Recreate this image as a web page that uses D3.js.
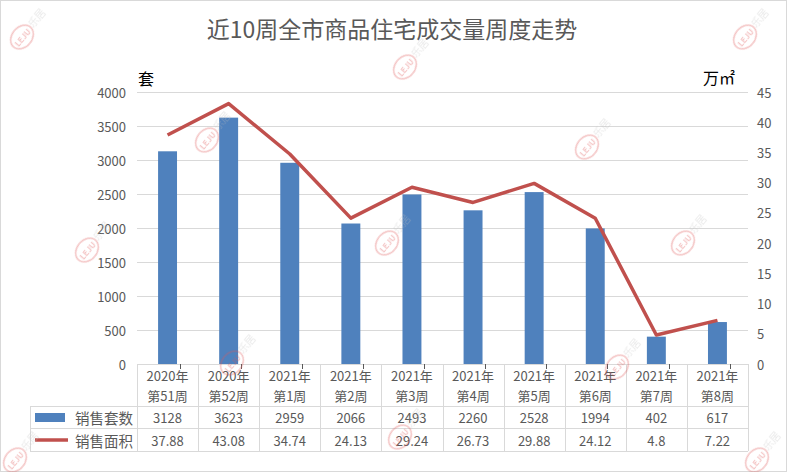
<!DOCTYPE html>
<html><head><meta charset="utf-8">
<script src="https://cdn.jsdelivr.net/npm/d3@7"></script>
<style>
body{margin:0;background:#fff;}
svg{display:block;font-family:"Noto Sans CJK SC","Noto Sans",sans-serif;}
</style></head>
<body><svg id="c" width="787" height="472"></svg>
<script>
const title = "近10周全市商品住宅成交量周度走势";
const catYear = ["2020年","2020年","2021年","2021年","2021年","2021年","2021年","2021年","2021年","2021年"];
const catWeek = ["第51周","第52周","第1周","第2周","第3周","第4周","第5周","第6周","第7周","第8周"];
const salesUnits = [3128,3623,2959,2066,2493,2260,2528,1994,402,617];
const salesArea = [37.88,43.08,34.74,24.13,29.24,26.73,29.88,24.12,4.8,7.22];
const leftTicks = [0,500,1000,1500,2000,2500,3000,3500,4000];
const rightTicks = [0,5,10,15,20,25,30,35,40,45];
const seriesNames = ["销售套数","销售面积"];
const leftUnit = "套", rightUnit = "万㎡";

const svg = d3.select("#c");
const W = 787, H = 472;
const L = 137, R = 748, T = 92, B = 364;
const txt = "#595959", grid = "#d9d9d9";
const blue = "#4F81BD", red = "#C0504D";

svg.append("rect").attr("x",0.5).attr("y",0.5).attr("width",W-1).attr("height",H-1)
  .attr("fill","#fff").attr("stroke","#d9d9d9");

const idx = d3.range(catWeek.length);
const x = d3.scaleBand().domain(idx).range([L,R]).padding(0);
const step = x.step();
const yL = d3.scaleLinear().domain([0,4000]).range([B,T]);
const yR = d3.scaleLinear().domain([0,45]).range([B,T]);

// title
svg.append("text").attr("x",392).attr("y",28).attr("text-anchor","middle")
  .attr("dominant-baseline","central").attr("font-size",23).attr("fill",txt).text(title);

// gridlines
svg.append("g").selectAll("line").data(leftTicks.filter(d=>d>0)).join("line")
  .attr("x1",L).attr("x2",R).attr("y1",d=>yL(d)+0.5).attr("y2",d=>yL(d)+0.5)
  .attr("stroke",grid).attr("stroke-width",1);

// left axis labels
svg.append("g").selectAll("text").data(leftTicks).join("text")
  .attr("x",126).attr("y",d=>yL(d)).attr("text-anchor","end").attr("dominant-baseline","central")
  .attr("font-size",13).attr("fill",txt).text(d=>d);
// right axis labels
svg.append("g").selectAll("text").data(rightTicks).join("text")
  .attr("x",757).attr("y",d=>yR(d)).attr("text-anchor","start").attr("dominant-baseline","central")
  .attr("font-size",13).attr("fill",txt).text(d=>d);

// unit labels
svg.append("text").attr("x",138).attr("y",78).attr("dominant-baseline","central")
  .attr("font-size",16).attr("fill","#000").text(leftUnit);
svg.append("text").attr("x",703).attr("y",77).attr("dominant-baseline","central")
  .attr("font-size",16).attr("fill","#000").text(rightUnit);

// bars
const bw = step*0.31;
svg.append("g").selectAll("rect").data(idx).join("rect")
  .attr("x",i=>x(i)+(step-bw)/2).attr("width",bw)
  .attr("y",i=>yL(salesUnits[i])).attr("height",i=>yL(0)-yL(salesUnits[i]))
  .attr("fill",blue);

// line
const line = d3.line().x(i=>x(i)+step/2).y(i=>yR(salesArea[i]));
svg.append("path").datum(idx).attr("d",line).attr("fill","none")
  .attr("stroke",red).attr("stroke-width",3.5).attr("stroke-linejoin","round");

// data table
const tb = svg.append("g").attr("stroke",grid).attr("stroke-width",1).attr("shape-rendering","crispEdges");
const rowY = [B, 406, 428, 451];
tb.append("line").attr("x1",L).attr("x2",R).attr("y1",B+0.5).attr("y2",B+0.5);
tb.append("line").attr("x1",30).attr("x2",R).attr("y1",rowY[1]+0.5).attr("y2",rowY[1]+0.5);
tb.append("line").attr("x1",30).attr("x2",R).attr("y1",rowY[2]+0.5).attr("y2",rowY[2]+0.5);
tb.append("line").attr("x1",30).attr("x2",R).attr("y1",rowY[3]+0.5).attr("y2",rowY[3]+0.5);
tb.append("line").attr("x1",30.5).attr("x2",30.5).attr("y1",rowY[1]).attr("y2",rowY[3]);
tb.selectAll(".v").data(idx.concat([idx.length])).join("line")
  .attr("x1",i=>Math.round(L+i*step)+0.5).attr("x2",i=>Math.round(L+i*step)+0.5)
  .attr("y1",B).attr("y2",rowY[3]);
// small axis ticks
tb.selectAll(".t").data(idx).join("line")
  .attr("x1",i=>Math.round(x(i)+step*0.7)+0.5).attr("x2",i=>Math.round(x(i)+step*0.7)+0.5)
  .attr("y1",B).attr("y2",B+5).attr("stroke","#595959");

const tt = svg.append("g").attr("font-size",13).attr("fill",txt).attr("text-anchor","middle")
  .attr("dominant-baseline","central");
tt.selectAll(".y").data(idx).join("text").attr("x",i=>x(i)+step/2).attr("y",375).text(i=>catYear[i]);
tt.selectAll(".w").data(idx).join("text").attr("x",i=>x(i)+step/2).attr("y",395).text(i=>catWeek[i]);
tt.selectAll(".u").data(idx).join("text").attr("x",i=>x(i)+step/2).attr("y",417).text(i=>salesUnits[i]);
tt.selectAll(".a").data(idx).join("text").attr("x",i=>x(i)+step/2).attr("y",440).text(i=>salesArea[i]);

// legend keys
svg.append("rect").attr("x",35).attr("y",413).attr("width",30).attr("height",9).attr("fill",blue);
svg.append("line").attr("x1",35).attr("x2",68).attr("y1",440).attr("y2",440).attr("stroke",red).attr("stroke-width",3.5);
svg.append("text").attr("x",75).attr("y",417).attr("dominant-baseline","central").attr("font-size",14.5).attr("fill",txt).text(seriesNames[0]);
svg.append("text").attr("x",75).attr("y",440).attr("dominant-baseline","central").attr("font-size",14.5).attr("fill",txt).text(seriesNames[1]);

// watermarks
const wm = [[22,37],[745,37],[405,67],[207,140],[87,250],[387,243],[232,363],[587,147],[683,243],[617,367],[400,437],[15,460],[757,460]];
const wg = svg.append("g").attr("opacity",0.35).attr("pointer-events","none");
wm.forEach(([cx,cy])=>{
  const g = wg.append("g").attr("transform",`translate(${cx},${cy}) rotate(-50)`);
  g.append("ellipse").attr("rx",13).attr("ry",10).attr("fill","none").attr("stroke","#e05a5a").attr("stroke-width",1.5);
  g.append("text").attr("text-anchor","middle").attr("dominant-baseline","central").attr("font-size",8).attr("font-weight","bold")
    .attr("fill","#e05a5a").text("LEJU");
  g.append("text").attr("x",24).attr("y",-2).attr("text-anchor","middle").attr("dominant-baseline","central")
    .attr("font-size",10).attr("fill","#c0c0c0").text("乐居");
});
</script></body></html>
